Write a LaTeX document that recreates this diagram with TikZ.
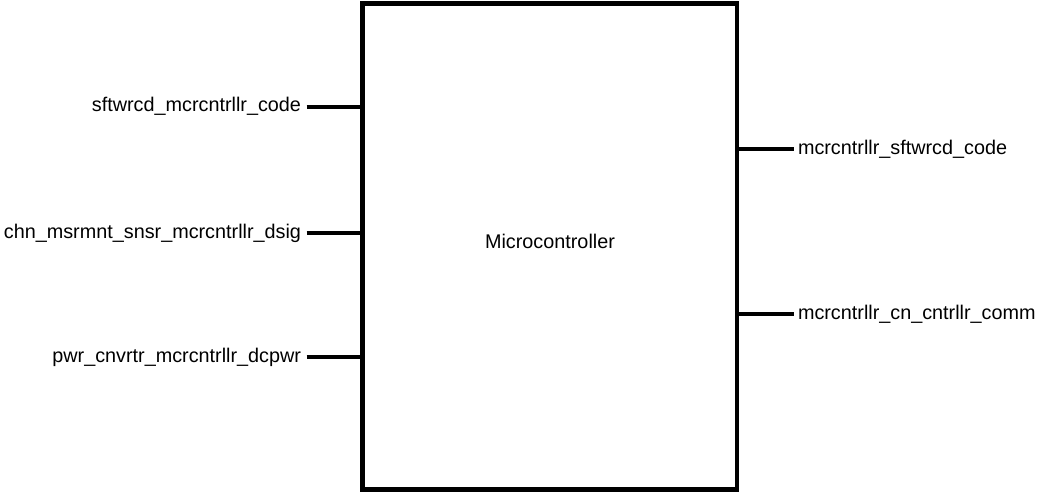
\documentclass[tikz,border=0pt]{standalone}
\usepackage{fontspec}
\setmainfont{Liberation Sans}
\begin{document}
\begin{tikzpicture}[x=1pt,y=-1pt,
  every node/.style={font=\fontsize{19.8}{23}\selectfont, inner sep=0pt, outer sep=0pt},
  port/.style={line width=4.5pt},
  blockbox/.style={draw, line width=4.5pt, minimum width=374.3pt, minimum height=486pt}]
\useasboundingbox (0,0) rectangle (1037,492);
\node[blockbox] (mc) at (549.85,246.5) {};
\node[anchor=base] (mclabel) at (550,248) {Microcontroller};
% left ports
\coordinate (l1) at (306.7,107);
\coordinate (l2) at (306.7,233);
\coordinate (l3) at (306.7,357);
\node[anchor=base east] (tl1) at (301,112) {sftwrcd\_mcrcntrllr\_code};
\node[anchor=base east] (tl2) at (301,238) {chn\_msrmnt\_snsr\_mcrcntrllr\_dsig};
\node[anchor=base east] (tl3) at (301,362) {pwr\_cnvrtr\_mcrcntrllr\_dcpwr};
\draw[port] (l1) -- (l1 -| mc.west);
\draw[port] (l2) -- (l2 -| mc.west);
\draw[port] (l3) -- (l3 -| mc.west);
% right ports
\coordinate (r1) at (794,149);
\coordinate (r2) at (794,314);
\node[anchor=base west] (tr1) at (798,154.3) {mcrcntrllr\_sftwrcd\_code};
\node[anchor=base west] (tr2) at (798,319.3) {mcrcntrllr\_cn\_cntrllr\_comm};
\draw[port] (r1 -| mc.east) -- (r1);
\draw[port] (r2 -| mc.east) -- (r2);
\end{tikzpicture}
\end{document}
